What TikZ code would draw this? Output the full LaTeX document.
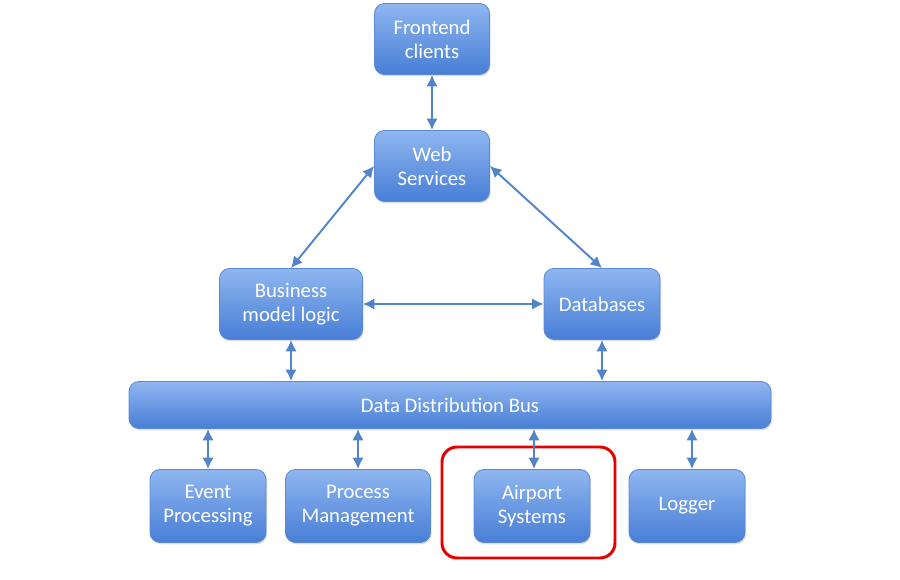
\documentclass[tikz,border=0pt]{standalone}
\usepackage{fontspec}
\setmainfont{Carlito}
\usetikzlibrary{arrows.meta,shadows}

\definecolor{boxtop}{RGB}{143,182,240}
\definecolor{boxbot}{RGB}{72,126,214}
\definecolor{boxline}{RGB}{92,138,210}
\definecolor{linkblue}{RGB}{82,132,202}
\definecolor{markred}{RGB}{228,0,0}

\begin{document}
\begin{tikzpicture}[
    box/.style={rectangle, rounded corners=0.2cm, draw=boxline, line width=0.5pt,
        top color=boxtop, bottom color=boxbot, text=white, align=center,
        font=\fontsize{11.8}{13.6}\selectfont, minimum height=1.42cm,
        drop shadow={shadow xshift=0.6pt, shadow yshift=-1pt, opacity=0.25}},
    link/.style={{Latex[length=6.5pt,width=6.5pt]}-{Latex[length=6.5pt,width=6.5pt]},
        draw=linkblue, line width=1.1pt}
]
\useasboundingbox (0,0) rectangle (18,11.6);

                % top of the stack
                \node[box, minimum width=2.3cm] (front) at (8.64,10.82) {Frontend\\clients};
                \node[box, minimum width=2.3cm] (web) at (8.64,8.28) {Web\\Services};

                % middle layer
                \node[box, minimum width=2.86cm] (bml) at (5.82,5.52) {Business\\model logic};
                \node[box, minimum width=2.32cm] (db) at (12.04,5.52) {Databases};

                % the bus
                \node[box, minimum width=12.84cm, minimum height=0.94cm] (bus) at (9.0,3.5) {Data Distribution Bus};

                % bottom row
                \node[box, minimum width=2.32cm, minimum height=1.46cm] (event) at (4.16,1.48) {Event\\Processing};
                \node[box, minimum width=2.9cm, minimum height=1.46cm] (process) at (7.16,1.48) {Process\\Management};
                \node[box, minimum width=2.32cm, minimum height=1.46cm] (airport) at (10.64,1.48) {Airport\\Systems};
                \node[box, minimum width=2.32cm, minimum height=1.46cm] (logger) at (13.74,1.48) {Logger};

                % highlight round the airport systems
                \node[draw=markred, line width=1.7pt, rounded corners=0.3cm,
                minimum width=3.46cm, minimum height=2.22cm] (mark) at (10.57,1.55) {};

                % links
                \draw[link] (front.south) -- (web.north);
                \draw[link] (web.west) -- (bml.north);
                \draw[link] (web.east) -- (db.north);
                \draw[link] (bml.east) -- (db.west);
                \draw[link] (bml.south) -- (bml.south |- bus.north);
                \draw[link] (db.south) -- (db.south |- bus.north);
                \draw[link] (event.north) -- (event.north |- bus.south);
                \draw[link] (process.north) -- (process.north |- bus.south);
                \draw[link] ([xshift=0.04cm]airport.north) -- ([xshift=0.04cm]airport.north |- bus.south);
                \draw[link] ([xshift=0.1cm]logger.north) -- ([xshift=0.1cm]logger.north |- bus.south);

\end{tikzpicture}
\end{document}
